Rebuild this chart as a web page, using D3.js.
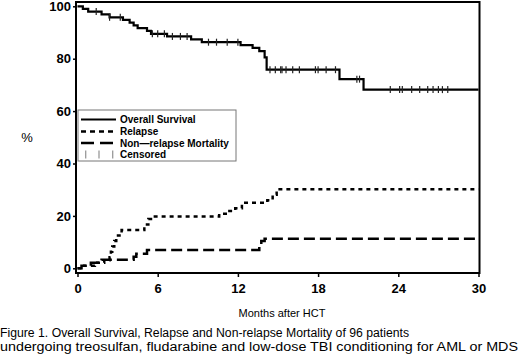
<!DOCTYPE html>
<html lang="en">
<head>
	<meta charset="UTF-8">
	<title>survival</title>
	<style>
		body { margin: 0; background: #fff; }
		text { font-family: "Liberation Sans", Arial, sans-serif; fill: #000; }
	</style>
</head>
<body>
	<svg id="container" width="520" height="364"></svg>
<script src="https://cdn.jsdelivr.net/npm/d3@7"></script>
<script>
	// overall survival steps (months, %)
	let osTime = [0, 0.4, 0.8, 1.8, 2.4, 3.4, 3.9, 4.2, 4.5, 5.2, 5.5, 6.7, 8.5, 9.3, 12.2, 13.1, 13.6, 14.0, 14.15, 19.6, 21.4, 30]
	let osValue = [100, 99, 98, 96.9, 95.8, 94.8, 93.8, 92.7, 91.7, 90.6, 89.5, 88.5, 87.4, 86.3, 85.2, 84.1, 82.9, 80.5, 75.8, 72.2, 68.2, 68.2]
	let osCensored = [1.4, 2.4, 3.2, 5.6, 6.0, 6.5, 7.1, 7.7, 8.2, 9.8, 10.4, 11.2, 12.0, 14.4, 14.8, 15.2, 15.3, 15.6, 16.1, 16.6, 17.8, 18.0, 18.6, 19.3, 20.9, 21.1, 23.4, 24.1, 24.3, 25.0, 25.6, 26.2, 26.6, 27.0, 27.3, 27.7]

	let relTime = [0, 0.3, 1.3, 2.0, 2.4, 2.5, 2.6, 2.75, 2.9, 3.3, 5.0, 5.3, 5.6, 10.6, 11.2, 11.8, 12.3, 14.2, 14.6, 14.9, 30]
	let relValue = [0, 1.0, 2.1, 3.1, 4.2, 6.3, 8.3, 10.4, 12.5, 14.6, 16.7, 18.8, 19.8, 20.8, 21.9, 22.9, 25.0, 26.0, 28.1, 30.2, 30.2]

	let nrmTime = [0, 0.3, 1.0, 1.8, 4.2, 4.4, 5.2, 13.6, 13.75, 14.0, 30]
	let nrmValue = [0, 1.0, 2.1, 3.3, 4.4, 5.6, 7.0, 8.3, 10.4, 11.3, 11.3]

	let xTicks = [0, 6, 12, 18, 24, 30]
	let yTicks = [0, 20, 40, 60, 80, 100]
	let legendLabels = ["Overall Survival", "Relapse", "Non\u2014relapse Mortality", "Censored"]
	let caption = [
		"Figure 1. Overall Survival, Relapse and Non-relapse Mortality of 96 patients",
		"undergoing treosulfan, fludarabine and low-dose TBI conditioning for AML or MDS"
	]

	let svg = d3.select("#container")

	let x = d3.scaleLinear().domain([0, 30]).range([77.5, 478.5])
	let y = d3.scaleLinear().domain([0, 100]).range([268.3, 6.3])

	let zip = (t, v) => t.map((d, i) => [d, v[i]])
	let line = d3.line()
		.x(d => x(d[0]))
		.y(d => y(d[1]))
		.curve(d3.curveStepAfter)

	// frame
	svg.append("rect")
		.attr("x", 76).attr("y", 2)
		.attr("width", 403.5).attr("height", 271)
		.attr("fill", "none").attr("stroke", "#000").attr("stroke-width", 2)

	// x axis
	let xAxis = svg.append("g")
		.attr("transform", "translate(0,273)")
		.call(d3.axisBottom(x).tickValues(xTicks).tickSize(4).tickPadding(7))
	xAxis.select(".domain").remove()
	xAxis.selectAll("line").attr("stroke-width", 1.5)
	xAxis.selectAll("text").attr("font-size", 13).attr("font-weight", "bold")
		.attr("font-family", "Liberation Sans, Arial, sans-serif")

	// y axis
	let yAxis = svg.append("g")
		.attr("transform", "translate(76,0)")
		.call(d3.axisLeft(y).tickValues(yTicks).tickSize(3).tickPadding(2))
	yAxis.select(".domain").remove()
	yAxis.selectAll("line").attr("stroke-width", 1.5)
	yAxis.selectAll("text").attr("font-size", 13).attr("font-weight", "bold")
		.attr("font-family", "Liberation Sans, Arial, sans-serif")

	svg.append("text").attr("x", 27).attr("y", 142)
		.attr("text-anchor", "middle").attr("font-size", 13).text("%")

	svg.append("text").attr("x", 282).attr("y", 317)
		.attr("text-anchor", "middle").attr("font-size", 11).text("Months after HCT")

	// curves
	svg.append("path").attr("d", line(zip(nrmTime, nrmValue)))
		.attr("fill", "none").attr("stroke", "#000").attr("stroke-width", 2.5)
		.attr("stroke-dasharray", "11,5")
	svg.append("path").attr("d", line(zip(relTime, relValue)))
		.attr("fill", "none").attr("stroke", "#000").attr("stroke-width", 2.5)
		.attr("stroke-dasharray", "4,4")
	svg.append("path").attr("d", line(zip(osTime, osValue)))
		.attr("fill", "none").attr("stroke", "#000").attr("stroke-width", 2.2)

	// censor marks on survival
	let osAt = t => osValue[d3.bisectRight(osTime, t) - 1]
	svg.selectAll(".cens")
		.data(osCensored)
		.enter()
		.append("line")
		.attr("x1", d => x(d)).attr("x2", d => x(d))
		.attr("y1", d => y(osAt(d)) - 3.5).attr("y2", d => y(osAt(d)) + 3.5)
		.attr("stroke", "#222").attr("stroke-width", 1.2)

	// legend
	let lg = svg.append("g")
	lg.append("rect").attr("x", 78).attr("y", 110).attr("width", 158).attr("height", 51)
		.attr("fill", "#fff").attr("stroke", "#777").attr("stroke-width", 1)
	let rowY = [119.5, 131.5, 143, 154.5]
	let styles = [
		{ dash: null, w: 2.2 },
		{ dash: "5,4", w: 2.5 },
		{ dash: "13,6", w: 2.5 },
	]
	styles.forEach((s, i) => {
		lg.append("line").attr("x1", 81).attr("x2", 116)
			.attr("y1", rowY[i]).attr("y2", rowY[i])
			.attr("stroke", "#000").attr("stroke-width", s.w)
			.attr("stroke-dasharray", s.dash)
	})
	lg.selectAll(".ct")
		.data([85.7, 99, 112.7])
		.enter()
		.append("line")
		.attr("x1", d => d).attr("x2", d => d)
		.attr("y1", rowY[3] - 4).attr("y2", rowY[3] + 4)
		.attr("stroke", "#999").attr("stroke-width", 1.3)
	lg.selectAll(".lt")
		.data(legendLabels)
		.enter()
		.append("text")
		.attr("x", 120).attr("y", (d, i) => rowY[i] + 3.5)
		.attr("font-size", 10).attr("font-weight", "bold")
		.text(d => d)

	// caption
	svg.selectAll(".cap")
		.data(caption)
		.enter()
		.append("text")
		.attr("x", 0).attr("y", (d, i) => 337 + i * 14)
		.attr("font-size", 12)
		.attr("textLength", (d, i) => i == 0 ? 409 : 518)
		.attr("lengthAdjust", "spacingAndGlyphs")
		.text(d => d)
</script>
</body>
</html>
